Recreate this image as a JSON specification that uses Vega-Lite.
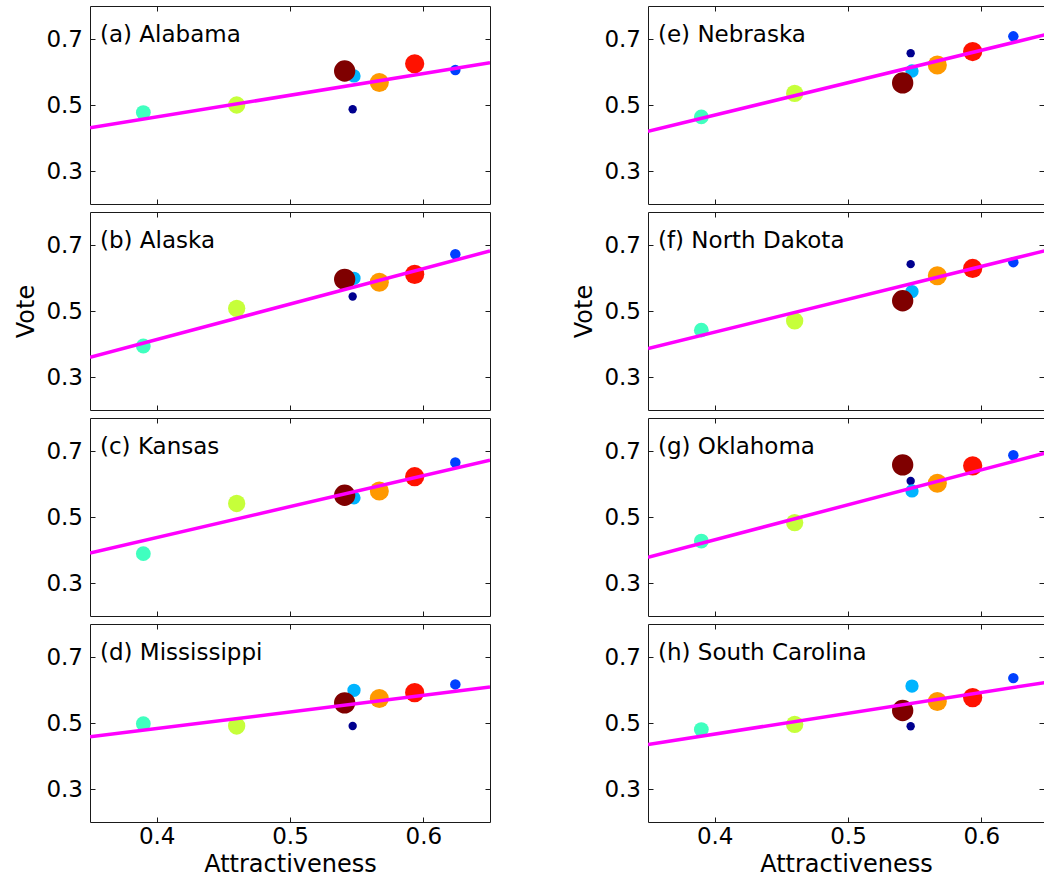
{
  "$schema": "https://vega.github.io/schema/vega-lite/v6.json",
  "padding": {"left": 14, "top": 5, "right": 0, "bottom": 0},
  "background": "white",
  "config": {
    "view": {"stroke": "#1a1a1a", "strokeWidth": 1},
    "axis": {"grid": false, "domain": false, "tickSize": -5, "tickColor": "#1a1a1a", "tickWidth": 1, "labelFont": "DejaVu Sans", "labelFontSize": 23, "labelColor": "#000", "titleFont": "DejaVu Sans", "titleFontSize": 24, "titleFontWeight": "normal", "titleColor": "#000", "format": ".1f"},
    "axisBottom": {"labelPadding": 8, "titlePadding": 4},
    "axisLeft": {"labelPadding": 12.5, "titlePadding": 7}
  },
  "datasets": {
    "pts": [
      {"state": "Alabama", "series": "cyan", "attr": 0.390, "vote": 0.477},
      {"state": "Alabama", "series": "yellow", "attr": 0.460, "vote": 0.500},
      {"state": "Alabama", "series": "navy", "attr": 0.547, "vote": 0.487},
      {"state": "Alabama", "series": "lightblue", "attr": 0.548, "vote": 0.588},
      {"state": "Alabama", "series": "orange", "attr": 0.567, "vote": 0.568},
      {"state": "Alabama", "series": "red", "attr": 0.5935, "vote": 0.625},
      {"state": "Alabama", "series": "blue", "attr": 0.624, "vote": 0.606},
      {"state": "Alabama", "series": "darkred", "attr": 0.541, "vote": 0.603},
      {"state": "Alaska", "series": "cyan", "attr": 0.390, "vote": 0.394},
      {"state": "Alaska", "series": "yellow", "attr": 0.460, "vote": 0.508},
      {"state": "Alaska", "series": "navy", "attr": 0.547, "vote": 0.544},
      {"state": "Alaska", "series": "lightblue", "attr": 0.548, "vote": 0.599},
      {"state": "Alaska", "series": "orange", "attr": 0.567, "vote": 0.587},
      {"state": "Alaska", "series": "red", "attr": 0.5935, "vote": 0.611},
      {"state": "Alaska", "series": "blue", "attr": 0.624, "vote": 0.672},
      {"state": "Alaska", "series": "darkred", "attr": 0.541, "vote": 0.596},
      {"state": "Kansas", "series": "cyan", "attr": 0.390, "vote": 0.389},
      {"state": "Kansas", "series": "yellow", "attr": 0.460, "vote": 0.541},
      {"state": "Kansas", "series": "navy", "attr": 0.547, "vote": 0.565},
      {"state": "Kansas", "series": "lightblue", "attr": 0.548, "vote": 0.558},
      {"state": "Kansas", "series": "orange", "attr": 0.567, "vote": 0.579},
      {"state": "Kansas", "series": "red", "attr": 0.5935, "vote": 0.622},
      {"state": "Kansas", "series": "blue", "attr": 0.624, "vote": 0.665},
      {"state": "Kansas", "series": "darkred", "attr": 0.541, "vote": 0.566},
      {"state": "Mississippi", "series": "cyan", "attr": 0.390, "vote": 0.498},
      {"state": "Mississippi", "series": "yellow", "attr": 0.460, "vote": 0.491},
      {"state": "Mississippi", "series": "navy", "attr": 0.547, "vote": 0.491},
      {"state": "Mississippi", "series": "lightblue", "attr": 0.548, "vote": 0.599},
      {"state": "Mississippi", "series": "orange", "attr": 0.567, "vote": 0.574},
      {"state": "Mississippi", "series": "red", "attr": 0.5935, "vote": 0.592},
      {"state": "Mississippi", "series": "blue", "attr": 0.624, "vote": 0.617},
      {"state": "Mississippi", "series": "darkred", "attr": 0.541, "vote": 0.561},
      {"state": "Nebraska", "series": "cyan", "attr": 0.390, "vote": 0.464},
      {"state": "Nebraska", "series": "yellow", "attr": 0.460, "vote": 0.535},
      {"state": "Nebraska", "series": "navy", "attr": 0.547, "vote": 0.657},
      {"state": "Nebraska", "series": "lightblue", "attr": 0.548, "vote": 0.603},
      {"state": "Nebraska", "series": "orange", "attr": 0.567, "vote": 0.621},
      {"state": "Nebraska", "series": "red", "attr": 0.5935, "vote": 0.662},
      {"state": "Nebraska", "series": "blue", "attr": 0.624, "vote": 0.708},
      {"state": "Nebraska", "series": "darkred", "attr": 0.541, "vote": 0.567},
      {"state": "North Dakota", "series": "cyan", "attr": 0.390, "vote": 0.442},
      {"state": "North Dakota", "series": "yellow", "attr": 0.460, "vote": 0.470},
      {"state": "North Dakota", "series": "navy", "attr": 0.547, "vote": 0.642},
      {"state": "North Dakota", "series": "lightblue", "attr": 0.548, "vote": 0.559},
      {"state": "North Dakota", "series": "orange", "attr": 0.567, "vote": 0.607},
      {"state": "North Dakota", "series": "red", "attr": 0.5935, "vote": 0.629},
      {"state": "North Dakota", "series": "blue", "attr": 0.624, "vote": 0.648},
      {"state": "North Dakota", "series": "darkred", "attr": 0.541, "vote": 0.531},
      {"state": "Oklahoma", "series": "cyan", "attr": 0.390, "vote": 0.427},
      {"state": "Oklahoma", "series": "yellow", "attr": 0.460, "vote": 0.483},
      {"state": "Oklahoma", "series": "navy", "attr": 0.547, "vote": 0.609},
      {"state": "Oklahoma", "series": "lightblue", "attr": 0.548, "vote": 0.579},
      {"state": "Oklahoma", "series": "orange", "attr": 0.567, "vote": 0.602},
      {"state": "Oklahoma", "series": "red", "attr": 0.5935, "vote": 0.655},
      {"state": "Oklahoma", "series": "blue", "attr": 0.624, "vote": 0.687},
      {"state": "Oklahoma", "series": "darkred", "attr": 0.541, "vote": 0.658},
      {"state": "South Carolina", "series": "cyan", "attr": 0.390, "vote": 0.480},
      {"state": "South Carolina", "series": "yellow", "attr": 0.460, "vote": 0.496},
      {"state": "South Carolina", "series": "navy", "attr": 0.547, "vote": 0.490},
      {"state": "South Carolina", "series": "lightblue", "attr": 0.548, "vote": 0.612},
      {"state": "South Carolina", "series": "orange", "attr": 0.567, "vote": 0.565},
      {"state": "South Carolina", "series": "red", "attr": 0.5935, "vote": 0.577},
      {"state": "South Carolina", "series": "blue", "attr": 0.624, "vote": 0.636},
      {"state": "South Carolina", "series": "darkred", "attr": 0.541, "vote": 0.538}
    ],
    "fit": [
      {"state": "Alabama", "attr": 0.35, "vote": 0.431}, {"state": "Alabama", "attr": 0.65, "vote": 0.628},
      {"state": "Alaska", "attr": 0.35, "vote": 0.360}, {"state": "Alaska", "attr": 0.65, "vote": 0.682},
      {"state": "Kansas", "attr": 0.35, "vote": 0.391}, {"state": "Kansas", "attr": 0.65, "vote": 0.672},
      {"state": "Mississippi", "attr": 0.35, "vote": 0.458}, {"state": "Mississippi", "attr": 0.65, "vote": 0.609},
      {"state": "Nebraska", "attr": 0.35, "vote": 0.420}, {"state": "Nebraska", "attr": 0.65, "vote": 0.715},
      {"state": "North Dakota", "attr": 0.35, "vote": 0.386}, {"state": "North Dakota", "attr": 0.65, "vote": 0.685},
      {"state": "Oklahoma", "attr": 0.35, "vote": 0.378}, {"state": "Oklahoma", "attr": 0.65, "vote": 0.696},
      {"state": "South Carolina", "attr": 0.35, "vote": 0.435}, {"state": "South Carolina", "attr": 0.65, "vote": 0.624}
    ],
    "labels": [
      {"state": "Alabama", "label": "(a) Alabama"},
      {"state": "Alaska", "label": "(b) Alaska"},
      {"state": "Kansas", "label": "(c) Kansas"},
      {"state": "Mississippi", "label": "(d) Mississippi"},
      {"state": "Nebraska", "label": "(e) Nebraska"},
      {"state": "North Dakota", "label": "(f) North Dakota"},
      {"state": "Oklahoma", "label": "(g) Oklahoma"},
      {"state": "South Carolina", "label": "(h) South Carolina"}
    ]
  },
  "spacing": 81,
  "hconcat": [
    {
      "spacing": 6,
      "vconcat": [
        {
          "width": 400, "height": 198,
          "layer": [
            {"data": {"name": "pts"}, "transform": [{"filter": "datum.state === 'Alabama'"}], "mark": {"type": "circle", "opacity": 1},
             "encoding": {
               "x": {"field": "attr", "type": "quantitative", "scale": {"domain": [0.35, 0.65], "nice": false, "zero": false}, "axis": {"orient": "bottom", "values": [0.4, 0.5, 0.6], "labels": false, "title": null}},
               "y": {"field": "vote", "type": "quantitative", "scale": {"domain": [0.2, 0.8], "nice": false, "zero": false}, "axis": {"orient": "left", "values": [0.3, 0.5, 0.7], "title": null}},
               "color": {"field": "series", "type": "nominal", "scale": {"domain": ["cyan", "yellow", "navy", "lightblue", "orange", "red", "blue", "darkred"], "range": ["#40ffbf", "#c6ff3a", "#00008f", "#00b4ff", "#ff9900", "#ff1200", "#0040ff", "#7f0000"]}, "legend": null},
               "size": {"field": "series", "type": "ordinal", "scale": {"type": "ordinal", "domain": ["cyan", "yellow", "navy", "lightblue", "orange", "red", "blue", "darkred"], "range": [219, 300, 70, 177, 363, 370, 110, 455]}, "legend": null}
             }},
            {"data": {"name": "fit"}, "transform": [{"filter": "datum.state === 'Alabama'"}], "mark": {"type": "line", "color": "#ff00ff", "strokeWidth": 3.5, "clip": true},
             "encoding": {
               "x": {"field": "attr", "type": "quantitative", "scale": {"domain": [0.35, 0.65], "nice": false, "zero": false}, "axis": {"orient": "top", "values": [0.4, 0.5, 0.6], "labels": false, "title": null}},
               "y": {"field": "vote", "type": "quantitative", "scale": {"domain": [0.2, 0.8], "nice": false, "zero": false}, "axis": {"orient": "right", "values": [0.3, 0.5, 0.7], "labels": false, "title": null}}
             }},
            {"data": {"name": "labels"}, "transform": [{"filter": "datum.state === 'Alabama'"}], "mark": {"type": "text", "align": "left", "baseline": "alphabetic", "font": "DejaVu Sans", "fontSize": 23, "color": "#000"},
             "encoding": {
               "x": {"datum": 0.3575, "type": "quantitative", "scale": {"domain": [0.35, 0.65], "nice": false, "zero": false}, "axis": null},
               "y": {"datum": 0.69, "type": "quantitative", "scale": {"domain": [0.2, 0.8], "nice": false, "zero": false}, "axis": null},
               "text": {"field": "label"}
             }}
          ]
        },
        {
          "width": 400, "height": 198,
          "layer": [
            {"data": {"name": "pts"}, "transform": [{"filter": "datum.state === 'Alaska'"}], "mark": {"type": "circle", "opacity": 1},
             "encoding": {
               "x": {"field": "attr", "type": "quantitative", "scale": {"domain": [0.35, 0.65], "nice": false, "zero": false}, "axis": {"orient": "bottom", "values": [0.4, 0.5, 0.6], "labels": false, "title": null}},
               "y": {"field": "vote", "type": "quantitative", "scale": {"domain": [0.2, 0.8], "nice": false, "zero": false}, "axis": {"orient": "left", "values": [0.3, 0.5, 0.7], "title": "Vote"}},
               "color": {"field": "series", "type": "nominal", "scale": {"domain": ["cyan", "yellow", "navy", "lightblue", "orange", "red", "blue", "darkred"], "range": ["#40ffbf", "#c6ff3a", "#00008f", "#00b4ff", "#ff9900", "#ff1200", "#0040ff", "#7f0000"]}, "legend": null},
               "size": {"field": "series", "type": "ordinal", "scale": {"type": "ordinal", "domain": ["cyan", "yellow", "navy", "lightblue", "orange", "red", "blue", "darkred"], "range": [219, 300, 70, 177, 363, 370, 110, 455]}, "legend": null}
             }},
            {"data": {"name": "fit"}, "transform": [{"filter": "datum.state === 'Alaska'"}], "mark": {"type": "line", "color": "#ff00ff", "strokeWidth": 3.5, "clip": true},
             "encoding": {
               "x": {"field": "attr", "type": "quantitative", "scale": {"domain": [0.35, 0.65], "nice": false, "zero": false}, "axis": {"orient": "top", "values": [0.4, 0.5, 0.6], "labels": false, "title": null}},
               "y": {"field": "vote", "type": "quantitative", "scale": {"domain": [0.2, 0.8], "nice": false, "zero": false}, "axis": {"orient": "right", "values": [0.3, 0.5, 0.7], "labels": false, "title": null}}
             }},
            {"data": {"name": "labels"}, "transform": [{"filter": "datum.state === 'Alaska'"}], "mark": {"type": "text", "align": "left", "baseline": "alphabetic", "font": "DejaVu Sans", "fontSize": 23, "color": "#000"},
             "encoding": {
               "x": {"datum": 0.3575, "type": "quantitative", "scale": {"domain": [0.35, 0.65], "nice": false, "zero": false}, "axis": null},
               "y": {"datum": 0.69, "type": "quantitative", "scale": {"domain": [0.2, 0.8], "nice": false, "zero": false}, "axis": null},
               "text": {"field": "label"}
             }}
          ]
        },
        {
          "width": 400, "height": 198,
          "layer": [
            {"data": {"name": "pts"}, "transform": [{"filter": "datum.state === 'Kansas'"}], "mark": {"type": "circle", "opacity": 1},
             "encoding": {
               "x": {"field": "attr", "type": "quantitative", "scale": {"domain": [0.35, 0.65], "nice": false, "zero": false}, "axis": {"orient": "bottom", "values": [0.4, 0.5, 0.6], "labels": false, "title": null}},
               "y": {"field": "vote", "type": "quantitative", "scale": {"domain": [0.2, 0.8], "nice": false, "zero": false}, "axis": {"orient": "left", "values": [0.3, 0.5, 0.7], "title": null}},
               "color": {"field": "series", "type": "nominal", "scale": {"domain": ["cyan", "yellow", "navy", "lightblue", "orange", "red", "blue", "darkred"], "range": ["#40ffbf", "#c6ff3a", "#00008f", "#00b4ff", "#ff9900", "#ff1200", "#0040ff", "#7f0000"]}, "legend": null},
               "size": {"field": "series", "type": "ordinal", "scale": {"type": "ordinal", "domain": ["cyan", "yellow", "navy", "lightblue", "orange", "red", "blue", "darkred"], "range": [219, 300, 70, 177, 363, 370, 110, 455]}, "legend": null}
             }},
            {"data": {"name": "fit"}, "transform": [{"filter": "datum.state === 'Kansas'"}], "mark": {"type": "line", "color": "#ff00ff", "strokeWidth": 3.5, "clip": true},
             "encoding": {
               "x": {"field": "attr", "type": "quantitative", "scale": {"domain": [0.35, 0.65], "nice": false, "zero": false}, "axis": {"orient": "top", "values": [0.4, 0.5, 0.6], "labels": false, "title": null}},
               "y": {"field": "vote", "type": "quantitative", "scale": {"domain": [0.2, 0.8], "nice": false, "zero": false}, "axis": {"orient": "right", "values": [0.3, 0.5, 0.7], "labels": false, "title": null}}
             }},
            {"data": {"name": "labels"}, "transform": [{"filter": "datum.state === 'Kansas'"}], "mark": {"type": "text", "align": "left", "baseline": "alphabetic", "font": "DejaVu Sans", "fontSize": 23, "color": "#000"},
             "encoding": {
               "x": {"datum": 0.3575, "type": "quantitative", "scale": {"domain": [0.35, 0.65], "nice": false, "zero": false}, "axis": null},
               "y": {"datum": 0.69, "type": "quantitative", "scale": {"domain": [0.2, 0.8], "nice": false, "zero": false}, "axis": null},
               "text": {"field": "label"}
             }}
          ]
        },
        {
          "width": 400, "height": 198,
          "layer": [
            {"data": {"name": "pts"}, "transform": [{"filter": "datum.state === 'Mississippi'"}], "mark": {"type": "circle", "opacity": 1},
             "encoding": {
               "x": {"field": "attr", "type": "quantitative", "scale": {"domain": [0.35, 0.65], "nice": false, "zero": false}, "axis": {"orient": "bottom", "values": [0.4, 0.5, 0.6], "labels": true, "title": "Attractiveness"}},
               "y": {"field": "vote", "type": "quantitative", "scale": {"domain": [0.2, 0.8], "nice": false, "zero": false}, "axis": {"orient": "left", "values": [0.3, 0.5, 0.7], "title": null}},
               "color": {"field": "series", "type": "nominal", "scale": {"domain": ["cyan", "yellow", "navy", "lightblue", "orange", "red", "blue", "darkred"], "range": ["#40ffbf", "#c6ff3a", "#00008f", "#00b4ff", "#ff9900", "#ff1200", "#0040ff", "#7f0000"]}, "legend": null},
               "size": {"field": "series", "type": "ordinal", "scale": {"type": "ordinal", "domain": ["cyan", "yellow", "navy", "lightblue", "orange", "red", "blue", "darkred"], "range": [219, 300, 70, 177, 363, 370, 110, 455]}, "legend": null}
             }},
            {"data": {"name": "fit"}, "transform": [{"filter": "datum.state === 'Mississippi'"}], "mark": {"type": "line", "color": "#ff00ff", "strokeWidth": 3.5, "clip": true},
             "encoding": {
               "x": {"field": "attr", "type": "quantitative", "scale": {"domain": [0.35, 0.65], "nice": false, "zero": false}, "axis": {"orient": "top", "values": [0.4, 0.5, 0.6], "labels": false, "title": null}},
               "y": {"field": "vote", "type": "quantitative", "scale": {"domain": [0.2, 0.8], "nice": false, "zero": false}, "axis": {"orient": "right", "values": [0.3, 0.5, 0.7], "labels": false, "title": null}}
             }},
            {"data": {"name": "labels"}, "transform": [{"filter": "datum.state === 'Mississippi'"}], "mark": {"type": "text", "align": "left", "baseline": "alphabetic", "font": "DejaVu Sans", "fontSize": 23, "color": "#000"},
             "encoding": {
               "x": {"datum": 0.3575, "type": "quantitative", "scale": {"domain": [0.35, 0.65], "nice": false, "zero": false}, "axis": null},
               "y": {"datum": 0.69, "type": "quantitative", "scale": {"domain": [0.2, 0.8], "nice": false, "zero": false}, "axis": null},
               "text": {"field": "label"}
             }}
          ]
        }
      ]
    },
    {
      "spacing": 6,
      "vconcat": [
        {
          "width": 396, "height": 198,
          "layer": [
            {"data": {"name": "pts"}, "transform": [{"filter": "datum.state === 'Nebraska'"}], "mark": {"type": "circle", "opacity": 1},
             "encoding": {
               "x": {"field": "attr", "type": "quantitative", "scale": {"domain": [0.35, 0.647], "nice": false, "zero": false}, "axis": {"orient": "bottom", "values": [0.4, 0.5, 0.6], "labels": false, "title": null}},
               "y": {"field": "vote", "type": "quantitative", "scale": {"domain": [0.2, 0.8], "nice": false, "zero": false}, "axis": {"orient": "left", "values": [0.3, 0.5, 0.7], "title": null}},
               "color": {"field": "series", "type": "nominal", "scale": {"domain": ["cyan", "yellow", "navy", "lightblue", "orange", "red", "blue", "darkred"], "range": ["#40ffbf", "#c6ff3a", "#00008f", "#00b4ff", "#ff9900", "#ff1200", "#0040ff", "#7f0000"]}, "legend": null},
               "size": {"field": "series", "type": "ordinal", "scale": {"type": "ordinal", "domain": ["cyan", "yellow", "navy", "lightblue", "orange", "red", "blue", "darkred"], "range": [219, 300, 70, 177, 363, 370, 110, 455]}, "legend": null}
             }},
            {"data": {"name": "fit"}, "transform": [{"filter": "datum.state === 'Nebraska'"}], "mark": {"type": "line", "color": "#ff00ff", "strokeWidth": 3.5, "clip": true},
             "encoding": {
               "x": {"field": "attr", "type": "quantitative", "scale": {"domain": [0.35, 0.647], "nice": false, "zero": false}, "axis": {"orient": "top", "values": [0.4, 0.5, 0.6], "labels": false, "title": null}},
               "y": {"field": "vote", "type": "quantitative", "scale": {"domain": [0.2, 0.8], "nice": false, "zero": false}, "axis": {"orient": "right", "values": [0.3, 0.5, 0.7], "labels": false, "title": null}}
             }},
            {"data": {"name": "labels"}, "transform": [{"filter": "datum.state === 'Nebraska'"}], "mark": {"type": "text", "align": "left", "baseline": "alphabetic", "font": "DejaVu Sans", "fontSize": 23, "color": "#000"},
             "encoding": {
               "x": {"datum": 0.3575, "type": "quantitative", "scale": {"domain": [0.35, 0.647], "nice": false, "zero": false}, "axis": null},
               "y": {"datum": 0.69, "type": "quantitative", "scale": {"domain": [0.2, 0.8], "nice": false, "zero": false}, "axis": null},
               "text": {"field": "label"}
             }}
          ]
        },
        {
          "width": 396, "height": 198,
          "layer": [
            {"data": {"name": "pts"}, "transform": [{"filter": "datum.state === 'North Dakota'"}], "mark": {"type": "circle", "opacity": 1},
             "encoding": {
               "x": {"field": "attr", "type": "quantitative", "scale": {"domain": [0.35, 0.647], "nice": false, "zero": false}, "axis": {"orient": "bottom", "values": [0.4, 0.5, 0.6], "labels": false, "title": null}},
               "y": {"field": "vote", "type": "quantitative", "scale": {"domain": [0.2, 0.8], "nice": false, "zero": false}, "axis": {"orient": "left", "values": [0.3, 0.5, 0.7], "title": "Vote"}},
               "color": {"field": "series", "type": "nominal", "scale": {"domain": ["cyan", "yellow", "navy", "lightblue", "orange", "red", "blue", "darkred"], "range": ["#40ffbf", "#c6ff3a", "#00008f", "#00b4ff", "#ff9900", "#ff1200", "#0040ff", "#7f0000"]}, "legend": null},
               "size": {"field": "series", "type": "ordinal", "scale": {"type": "ordinal", "domain": ["cyan", "yellow", "navy", "lightblue", "orange", "red", "blue", "darkred"], "range": [219, 300, 70, 177, 363, 370, 110, 455]}, "legend": null}
             }},
            {"data": {"name": "fit"}, "transform": [{"filter": "datum.state === 'North Dakota'"}], "mark": {"type": "line", "color": "#ff00ff", "strokeWidth": 3.5, "clip": true},
             "encoding": {
               "x": {"field": "attr", "type": "quantitative", "scale": {"domain": [0.35, 0.647], "nice": false, "zero": false}, "axis": {"orient": "top", "values": [0.4, 0.5, 0.6], "labels": false, "title": null}},
               "y": {"field": "vote", "type": "quantitative", "scale": {"domain": [0.2, 0.8], "nice": false, "zero": false}, "axis": {"orient": "right", "values": [0.3, 0.5, 0.7], "labels": false, "title": null}}
             }},
            {"data": {"name": "labels"}, "transform": [{"filter": "datum.state === 'North Dakota'"}], "mark": {"type": "text", "align": "left", "baseline": "alphabetic", "font": "DejaVu Sans", "fontSize": 23, "color": "#000"},
             "encoding": {
               "x": {"datum": 0.3575, "type": "quantitative", "scale": {"domain": [0.35, 0.647], "nice": false, "zero": false}, "axis": null},
               "y": {"datum": 0.69, "type": "quantitative", "scale": {"domain": [0.2, 0.8], "nice": false, "zero": false}, "axis": null},
               "text": {"field": "label"}
             }}
          ]
        },
        {
          "width": 396, "height": 198,
          "layer": [
            {"data": {"name": "pts"}, "transform": [{"filter": "datum.state === 'Oklahoma'"}], "mark": {"type": "circle", "opacity": 1},
             "encoding": {
               "x": {"field": "attr", "type": "quantitative", "scale": {"domain": [0.35, 0.647], "nice": false, "zero": false}, "axis": {"orient": "bottom", "values": [0.4, 0.5, 0.6], "labels": false, "title": null}},
               "y": {"field": "vote", "type": "quantitative", "scale": {"domain": [0.2, 0.8], "nice": false, "zero": false}, "axis": {"orient": "left", "values": [0.3, 0.5, 0.7], "title": null}},
               "color": {"field": "series", "type": "nominal", "scale": {"domain": ["cyan", "yellow", "navy", "lightblue", "orange", "red", "blue", "darkred"], "range": ["#40ffbf", "#c6ff3a", "#00008f", "#00b4ff", "#ff9900", "#ff1200", "#0040ff", "#7f0000"]}, "legend": null},
               "size": {"field": "series", "type": "ordinal", "scale": {"type": "ordinal", "domain": ["cyan", "yellow", "navy", "lightblue", "orange", "red", "blue", "darkred"], "range": [219, 300, 70, 177, 363, 370, 110, 455]}, "legend": null}
             }},
            {"data": {"name": "fit"}, "transform": [{"filter": "datum.state === 'Oklahoma'"}], "mark": {"type": "line", "color": "#ff00ff", "strokeWidth": 3.5, "clip": true},
             "encoding": {
               "x": {"field": "attr", "type": "quantitative", "scale": {"domain": [0.35, 0.647], "nice": false, "zero": false}, "axis": {"orient": "top", "values": [0.4, 0.5, 0.6], "labels": false, "title": null}},
               "y": {"field": "vote", "type": "quantitative", "scale": {"domain": [0.2, 0.8], "nice": false, "zero": false}, "axis": {"orient": "right", "values": [0.3, 0.5, 0.7], "labels": false, "title": null}}
             }},
            {"data": {"name": "labels"}, "transform": [{"filter": "datum.state === 'Oklahoma'"}], "mark": {"type": "text", "align": "left", "baseline": "alphabetic", "font": "DejaVu Sans", "fontSize": 23, "color": "#000"},
             "encoding": {
               "x": {"datum": 0.3575, "type": "quantitative", "scale": {"domain": [0.35, 0.647], "nice": false, "zero": false}, "axis": null},
               "y": {"datum": 0.69, "type": "quantitative", "scale": {"domain": [0.2, 0.8], "nice": false, "zero": false}, "axis": null},
               "text": {"field": "label"}
             }}
          ]
        },
        {
          "width": 396, "height": 198,
          "layer": [
            {"data": {"name": "pts"}, "transform": [{"filter": "datum.state === 'South Carolina'"}], "mark": {"type": "circle", "opacity": 1},
             "encoding": {
               "x": {"field": "attr", "type": "quantitative", "scale": {"domain": [0.35, 0.647], "nice": false, "zero": false}, "axis": {"orient": "bottom", "values": [0.4, 0.5, 0.6], "labels": true, "title": "Attractiveness"}},
               "y": {"field": "vote", "type": "quantitative", "scale": {"domain": [0.2, 0.8], "nice": false, "zero": false}, "axis": {"orient": "left", "values": [0.3, 0.5, 0.7], "title": null}},
               "color": {"field": "series", "type": "nominal", "scale": {"domain": ["cyan", "yellow", "navy", "lightblue", "orange", "red", "blue", "darkred"], "range": ["#40ffbf", "#c6ff3a", "#00008f", "#00b4ff", "#ff9900", "#ff1200", "#0040ff", "#7f0000"]}, "legend": null},
               "size": {"field": "series", "type": "ordinal", "scale": {"type": "ordinal", "domain": ["cyan", "yellow", "navy", "lightblue", "orange", "red", "blue", "darkred"], "range": [219, 300, 70, 177, 363, 370, 110, 455]}, "legend": null}
             }},
            {"data": {"name": "fit"}, "transform": [{"filter": "datum.state === 'South Carolina'"}], "mark": {"type": "line", "color": "#ff00ff", "strokeWidth": 3.5, "clip": true},
             "encoding": {
               "x": {"field": "attr", "type": "quantitative", "scale": {"domain": [0.35, 0.647], "nice": false, "zero": false}, "axis": {"orient": "top", "values": [0.4, 0.5, 0.6], "labels": false, "title": null}},
               "y": {"field": "vote", "type": "quantitative", "scale": {"domain": [0.2, 0.8], "nice": false, "zero": false}, "axis": {"orient": "right", "values": [0.3, 0.5, 0.7], "labels": false, "title": null}}
             }},
            {"data": {"name": "labels"}, "transform": [{"filter": "datum.state === 'South Carolina'"}], "mark": {"type": "text", "align": "left", "baseline": "alphabetic", "font": "DejaVu Sans", "fontSize": 23, "color": "#000"},
             "encoding": {
               "x": {"datum": 0.3575, "type": "quantitative", "scale": {"domain": [0.35, 0.647], "nice": false, "zero": false}, "axis": null},
               "y": {"datum": 0.69, "type": "quantitative", "scale": {"domain": [0.2, 0.8], "nice": false, "zero": false}, "axis": null},
               "text": {"field": "label"}
             }}
          ]
        }
      ]
    }
  ]
}
